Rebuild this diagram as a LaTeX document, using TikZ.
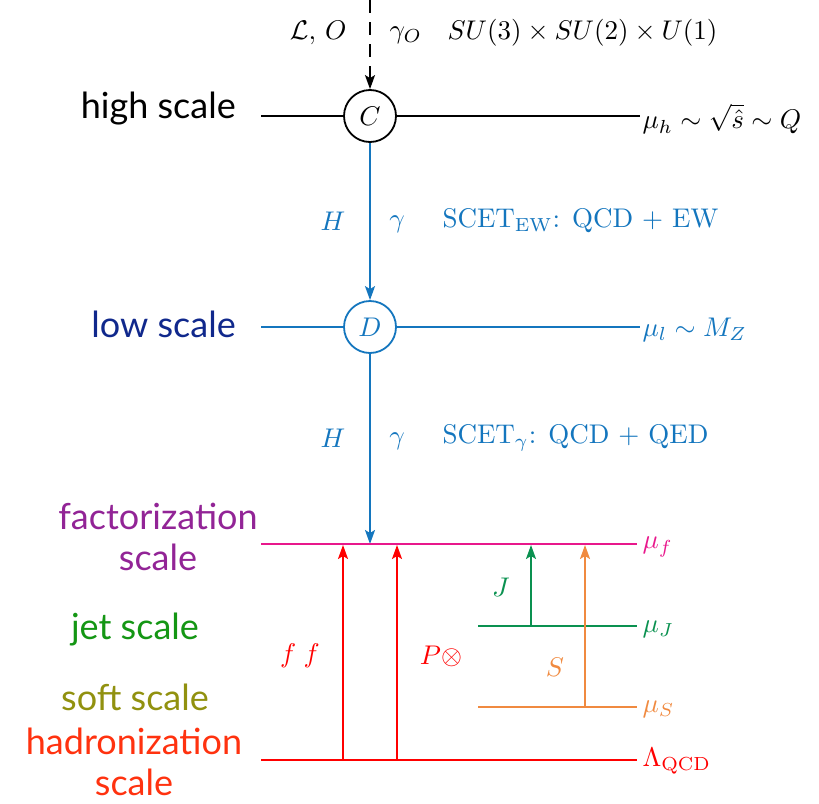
\documentclass[tikz,border=0pt]{standalone}
\usepackage{fontspec}
\setsansfont{Lato}
\usetikzlibrary{arrows.meta}
\definecolor{cblue}{RGB}{20,118,190}
\definecolor{cnavy}{RGB}{16,40,140}
\definecolor{cmag}{RGB}{232,24,140}
\definecolor{cpurple}{RGB}{146,36,150}
\definecolor{cgreenT}{RGB}{20,150,20}
\definecolor{cgreen}{RGB}{10,145,80}
\definecolor{colive}{RGB}{145,145,15}
\definecolor{corange}{RGB}{240,138,64}
\definecolor{cred}{RGB}{255,0,0}
\definecolor{chadr}{RGB}{255,50,15}
\begin{document}
\begin{tikzpicture}[x=1pt,y=-1pt,
  mathlbl/.style={font=\fontsize{10}{12}\selectfont, inner sep=0pt, scale=2.7},
  scalelbl/.style={font=\sffamily\fontsize{36}{41}\selectfont, inner sep=0pt, align=center},
  lvl/.style={line width=1.8pt},
  vert/.style={line width=1.8pt},
  arr/.style={-{Stealth[length=14pt,width=10pt,inset=3pt]}},
  vtx/.style={circle, draw, line width=1.8pt, minimum size=52pt, inner sep=0pt, font=\fontsize{10}{12}\selectfont}]
\useasboundingbox (0,0) rectangle (819,803);
% top
\coordinate (top) at (370,0);
\node[vtx] (C) at (370,116) {\scalebox{2.7}{$C$}};
\node[vtx, draw=cblue, text=cblue] (D) at (370,327) {\scalebox{2.7}{$D$}};
\draw[vert, dash pattern=on 13pt off 9pt, arr] (top) -- (C.north);
\node[mathlbl, anchor=east] (LO) at (347,33) {$\mathcal{L},\,O$};
\node[mathlbl, anchor=west] (gO) at (389,35) {$\gamma_O$};
\node[mathlbl, anchor=west] (SU) at (447,33) {$SU(3)\times SU(2)\times U(1)$};
% high scale
\coordinate (h1) at (261,116);
\coordinate (h2) at (640,116);
\draw[lvl] (h1) -- (C.west);
\draw[lvl] (C.east) -- (h2);
\node[mathlbl, anchor=west] (muh) at (642,119) {$\mu_h\sim\sqrt{\hat s}\sim Q$};
\node[scalelbl, anchor=east] (hs) at (236,109) {high scale};
% C to D
\draw[vert, cblue, arr] (C.south) -- (D.north);
\node[mathlbl, text=cblue] (H1) at (333,221) {$H$};
\node[mathlbl, text=cblue] (g1) at (397,224) {$\gamma$};
\node[mathlbl, text=cblue, anchor=west] (S1) at (442,221) {$\mathrm{SCET}_{\mathrm{EW}}$: QCD + EW};
% low scale
\coordinate (l1) at (261,327);
\coordinate (l2) at (640,327);
\draw[lvl, cblue] (l1) -- (D.west);
\draw[lvl, cblue] (D.east) -- (l2);
\node[mathlbl, text=cblue, anchor=west] (mul) at (642,330) {$\mu_l\sim M_Z$};
\node[scalelbl, anchor=east, text=cnavy] (ls) at (236,324) {low scale};
% D to mu_f
\coordinate (f1) at (261,544);
\coordinate (f2) at (637,544);
\coordinate (fD) at (370,544);
\draw[vert, cblue, arr] (D.south) -- (fD);
\node[mathlbl, text=cblue] (H2) at (333,438) {$H$};
\node[mathlbl, text=cblue] (g2) at (397,441) {$\gamma$};
\node[mathlbl, text=cblue, anchor=west] (S2) at (442,438) {$\mathrm{SCET}_{\gamma}$: QCD + QED};
% factorization
\draw[lvl, cmag] (f1) -- (f2);
\node[mathlbl, text=cmag, anchor=west] (muf) at (642,547) {$\mu_f$};
% Lambda
\coordinate (q1) at (261,760);
\coordinate (q2) at (637,760);
\draw[lvl, cred] (q1) -- (q2);
\node[mathlbl, text=cred, anchor=west] (LQ) at (642,761) {$\Lambda_{\mathrm{QCD}}$};
% red arrows
\coordinate (ra1) at (343,760);
\coordinate (ra2) at (343,545);
\coordinate (rb1) at (397,760);
\coordinate (rb2) at (397,545);
\draw[vert, cred, arr] (ra1) -- (ra2);
\draw[vert, cred, arr] (rb1) -- (rb2);
\node[mathlbl, text=cred] (ff) at (300,656) {$f\;f$};
\node[mathlbl, text=cred] (Po) at (441,656) {$P\otimes$};
% jet
\coordinate (j1) at (478,626);
\coordinate (j2) at (637,626);
\coordinate (ja1) at (531,626);
\coordinate (ja2) at (531,545);
\draw[lvl, cgreen] (j1) -- (j2);
\draw[vert, cgreen, arr] (ja1) -- (ja2);
\node[mathlbl, text=cgreen] (J) at (501,587) {$J$};
\node[mathlbl, text=cgreen, anchor=west] (muJ) at (642,629) {$\mu_J$};
% soft
\coordinate (s1) at (478,707);
\coordinate (s2) at (637,707);
\coordinate (sa1) at (585,707);
\coordinate (sa2) at (585,545);
\draw[lvl, corange] (s1) -- (s2);
\draw[vert, corange, arr] (sa1) -- (sa2);
\node[mathlbl, text=corange] (S) at (555,667) {$S$};
\node[mathlbl, text=corange, anchor=west] (muS) at (642,709) {$\mu_S$};
% left labels
\node[scalelbl, text=cpurple] (fs) at (158,537) {factorization\\scale};
\node[scalelbl, text=cgreenT] (js) at (135,630) {jet scale};
\node[scalelbl, text=colive] (ss) at (135,697) {soft scale};
\node[scalelbl, text=chadr] (hz) at (134,762) {hadronization\\scale};
\end{tikzpicture}
\end{document}
